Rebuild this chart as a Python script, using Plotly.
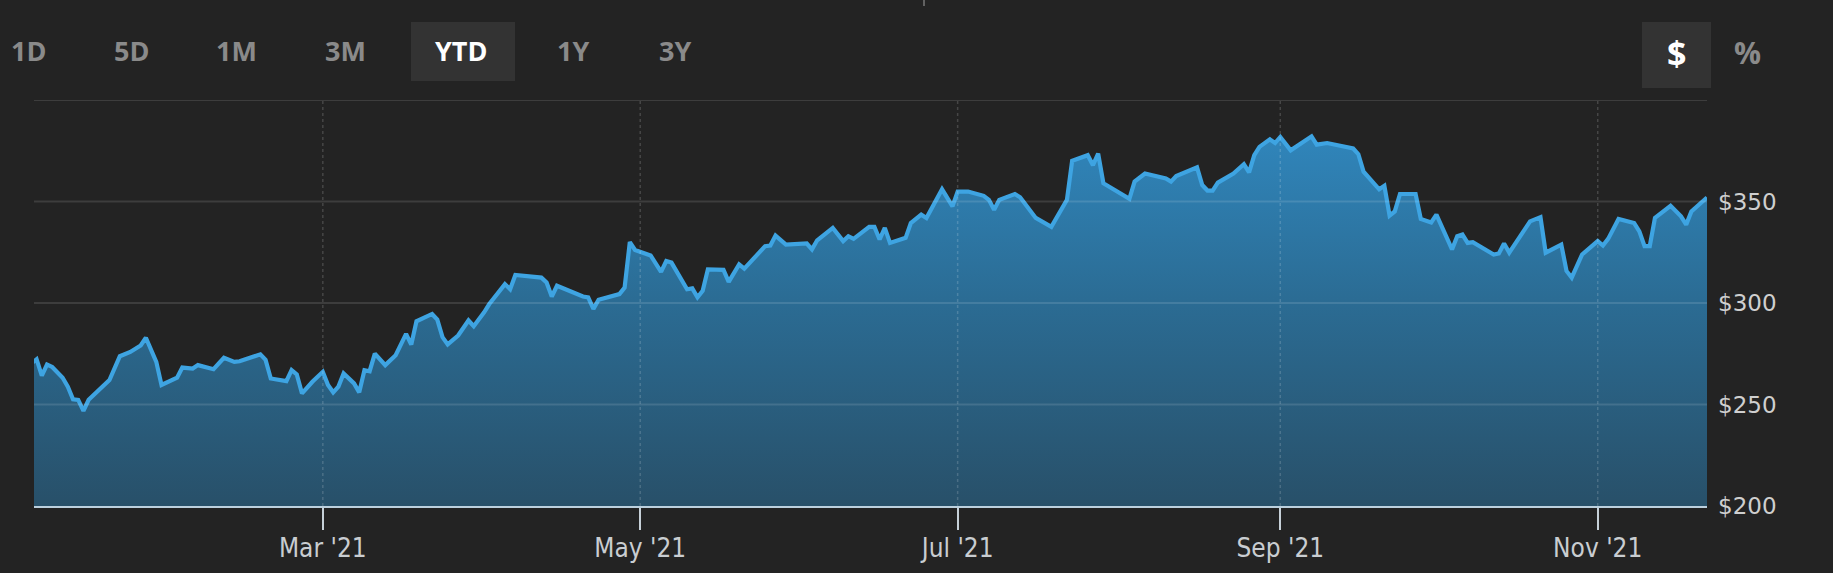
import plotly.graph_objects as go

# ---------------- data ----------------
dates = [
    "2021-01-04","2021-01-05","2021-01-06","2021-01-07","2021-01-08","2021-01-10","2021-01-11",
    "2021-01-12","2021-01-13","2021-01-14","2021-01-15","2021-01-17","2021-01-19","2021-01-21",
    "2021-01-23","2021-01-25","2021-01-26","2021-01-28","2021-01-29","2021-02-01","2021-02-02",
    "2021-02-04","2021-02-05","2021-02-08","2021-02-10","2021-02-12","2021-02-13","2021-02-17",
    "2021-02-18","2021-02-19","2021-02-22","2021-02-23","2021-02-24","2021-02-25","2021-02-27",
    "2021-03-01","2021-03-02","2021-03-03","2021-03-04","2021-03-05","2021-03-07","2021-03-08",
    "2021-03-09","2021-03-10","2021-03-11","2021-03-13","2021-03-15","2021-03-17","2021-03-18",
    "2021-03-19","2021-03-22","2021-03-23","2021-03-24","2021-03-25","2021-03-27","2021-03-29",
    "2021-03-30","2021-04-01","2021-04-02","2021-04-05","2021-04-06","2021-04-07","2021-04-12",
    "2021-04-13","2021-04-14","2021-04-15","2021-04-20","2021-04-21","2021-04-22","2021-04-23",
    "2021-04-27","2021-04-28","2021-04-29","2021-04-30","2021-05-03","2021-05-05","2021-05-06",
    "2021-05-07","2021-05-10","2021-05-11","2021-05-12","2021-05-13","2021-05-14","2021-05-17",
    "2021-05-18","2021-05-20","2021-05-21","2021-05-25","2021-05-26","2021-05-27","2021-05-29",
    "2021-06-02","2021-06-03","2021-06-04","2021-06-07","2021-06-09","2021-06-10","2021-06-11",
    "2021-06-14","2021-06-15","2021-06-16","2021-06-17","2021-06-18","2021-06-21","2021-06-22",
    "2021-06-24","2021-06-25","2021-06-28","2021-06-30","2021-07-01","2021-07-03","2021-07-06",
    "2021-07-07","2021-07-08","2021-07-09","2021-07-12","2021-07-13","2021-07-16","2021-07-19",
    "2021-07-22","2021-07-23","2021-07-26","2021-07-27","2021-07-28","2021-07-29","2021-08-03",
    "2021-08-04","2021-08-06","2021-08-10","2021-08-11","2021-08-12","2021-08-16","2021-08-17",
    "2021-08-18","2021-08-19","2021-08-20","2021-08-23","2021-08-25","2021-08-26","2021-08-27",
    "2021-08-28","2021-08-30","2021-08-31","2021-09-01","2021-09-03","2021-09-07","2021-09-08",
    "2021-09-10","2021-09-14","2021-09-15","2021-09-16","2021-09-17","2021-09-20","2021-09-21",
    "2021-09-22","2021-09-23","2021-09-24","2021-09-27","2021-09-28","2021-09-30","2021-10-01",
    "2021-10-04","2021-10-05","2021-10-06","2021-10-07","2021-10-08","2021-10-12","2021-10-13",
    "2021-10-14","2021-10-15","2021-10-19","2021-10-21","2021-10-22","2021-10-25","2021-10-26",
    "2021-10-27","2021-10-29","2021-11-01","2021-11-02","2021-11-03","2021-11-05","2021-11-08",
    "2021-11-09","2021-11-10","2021-11-11","2021-11-12","2021-11-15","2021-11-17","2021-11-18",
    "2021-11-19","2021-11-22",
]
prices = [
    270.2, 272.3, 264.2, 269.7, 268.5, 263.2, 258.8,
    252.6, 252.3, 246.9, 252.3, 257.1, 262.0, 273.8,
    275.9, 279.1, 282.9, 271.0, 259.6, 263.2, 268.2,
    267.7, 269.4, 267.4, 273.0, 271.0, 271.3, 274.7,
    272.0, 262.8, 261.5, 266.9, 264.8, 255.5, 261.2,
    266.1, 259.6, 256.0, 258.8, 265.3, 260.4, 256.0,
    266.9, 266.4, 275.1, 269.4, 274.3, 284.8, 279.5,
    291.0, 294.6, 291.8, 283.2, 279.6, 284.0, 291.4,
    288.6, 295.4, 299.5, 309.3, 306.8, 313.8, 312.5,
    310.1, 303.2, 308.5, 303.2, 302.8, 297.1, 301.6,
    304.4, 307.6, 330.0, 326.1, 323.4, 315.3, 320.7,
    319.9, 306.8, 307.2, 302.8, 306.0, 316.6, 316.3,
    310.4, 319.0, 316.9, 328.0, 328.3, 333.2, 328.8,
    329.3, 326.4, 330.9, 337.0, 330.5, 332.9, 331.6,
    337.5, 337.5, 331.3, 337.0, 329.6, 332.1, 339.4,
    343.5, 341.9, 356.0, 347.6, 354.9, 354.9, 352.8,
    350.8, 345.9, 350.8, 353.7, 352.1, 341.9, 337.5,
    350.8, 370.0, 372.8, 367.9, 373.6, 359.0, 351.3,
    359.8, 363.8, 361.4, 359.8, 362.5, 366.8, 358.1,
    355.4, 355.4, 359.3, 363.8, 368.4, 364.3, 372.8,
    376.9, 380.6, 378.8, 381.8, 375.2, 382.1, 378.0,
    378.8, 376.6, 376.1, 373.3, 364.7, 356.0, 357.7,
    343.0, 345.1, 353.7, 353.7, 341.4, 339.7, 343.5,
    326.4, 332.9, 333.7, 329.6, 330.0, 323.9, 324.4,
    329.3, 324.8, 340.2, 342.3, 324.8, 328.8, 315.8,
    312.5, 323.9, 330.5, 328.3, 331.6, 341.4, 339.4,
    335.3, 328.0, 328.0, 341.9, 347.9, 342.7, 338.6,
    345.1, 352.0,
]

x_range = ["2021-01-04 12:00", "2021-11-22"]
x_tick_dates = ["2021-03-01", "2021-05-01", "2021-07-01", "2021-09-01", "2021-11-01"]
x_tick_labels = ["Mar '21", "May '21", "Jul '21", "Sep '21", "Nov '21"]
y_tick_values = [200, 250, 300, 350]
y_tick_labels = ["$200", "$250", "$300", "$350"]
y_grid_values = [250, 300, 350, 400]
range_buttons = ["1D", "5D", "1M", "3M", "YTD", "1Y", "3Y"]
selected_button = "YTD"
y_min, y_max = 200, 400

# ---------------- layout geometry (pixels) ----------------
W, H = 1833, 573
PL, PR, PT, PB = 34, 1707, 100, 506


def px(xp):
    return (xp - PL) / (PR - PL)


def py(yp):
    return (PB - yp) / (PB - PT)


BG = "#232323"
LINE = "#3ea4e2"

fig = go.Figure()

# baseline for the area fill
fig.add_trace(go.Scatter(
    x=[dates[0], dates[-1]], y=[y_min, y_min], mode="lines",
    line=dict(width=0, color="rgba(0,0,0,0)"), hoverinfo="skip", showlegend=False,
))
fig.add_trace(go.Scatter(
    x=dates, y=prices, mode="lines",
    line=dict(color=LINE, width=4.2),
    fill="tonexty",
    fillgradient=dict(
        type="vertical",
        colorscale=[[0, "rgb(40,80,105)"], [0.55, "rgb(43,108,148)"], [1, "rgb(48,134,188)"]],
        start=y_min, stop=385,
    ),
    showlegend=False,
))

shapes = []
for v in y_grid_values:
    shapes.append(dict(type="line", xref="paper", yref="y", x0=0, x1=1, y0=v, y1=v,
                       line=dict(color="rgba(255,255,255,0.12)", width=2), layer="above"))
for d in x_tick_dates:
    shapes.append(dict(type="line", xref="x", yref="paper", x0=d, x1=d, y0=0, y1=1,
                       line=dict(color="rgba(255,255,255,0.16)", width=1.5, dash="dot"),
                       layer="above"))

# button backgrounds
shapes.append(dict(type="rect", xref="paper", yref="paper",
                   x0=px(411), x1=px(515), y0=py(81), y1=py(22),
                   fillcolor="#333333", line=dict(width=0), layer="below"))
shapes.append(dict(type="rect", xref="paper", yref="paper",
                   x0=px(1642), x1=px(1711), y0=py(88), y1=py(22),
                   fillcolor="#333333", line=dict(width=0), layer="below"))
# small mark at the top
shapes.append(dict(type="line", xref="paper", yref="paper",
                   x0=px(924), x1=px(924), y0=py(0), y1=py(6),
                   line=dict(color="#777777", width=1.5)))

annotations = []
button_x = [28.5, 131.3, 236.5, 345.3, 461.4, 572.5, 675]
for lab, bx in zip(range_buttons, button_x):
    annotations.append(dict(
        text=lab, xref="paper", yref="paper", x=px(bx), y=py(50),
        xanchor="center", yanchor="middle", showarrow=False,
        font=dict(family="Open Sans", size=27, weight="bold",
                  color="#ffffff" if lab == selected_button else "#8a8a8a"),
    ))
annotations.append(dict(text="$", xref="paper", yref="paper", x=px(1676.5), y=py(53),
                        xanchor="center", yanchor="middle", showarrow=False,
                        font=dict(family="Open Sans", size=34, weight="bold", color="#ffffff")))
annotations.append(dict(text="%", xref="paper", yref="paper", x=px(1747.5), y=py(53),
                        xanchor="center", yanchor="middle", showarrow=False,
                        font=dict(family="Open Sans", size=30, weight="bold", color="#8a8a8a")))

fig.update_layout(
    width=W, height=H, autosize=False,
    margin=dict(l=PL, r=W - PR, t=PT, b=H - PB, pad=0),
    paper_bgcolor=BG, plot_bgcolor=BG,
    showlegend=False,
    shapes=shapes, annotations=annotations,
    xaxis=dict(
        type="date", range=x_range, automargin=False,
        tickmode="array", tickvals=x_tick_dates, ticktext=x_tick_labels,
        showgrid=False, zeroline=False,
        showline=True, linecolor="#bcd0de", linewidth=2,
        ticks="outside", ticklen=22, tickwidth=2, tickcolor="#c6d0d8",
        tickfont=dict(family="Liberation Sans Narrow, DejaVu Sans Condensed, Roboto", size=26,
                      color="#c9cdd1"),
        ticklabelstandoff=-4,
        fixedrange=True,
    ),
    yaxis=dict(
        range=[y_min, y_max], side="right", automargin=False,
        tickmode="array", tickvals=y_tick_values, ticktext=y_tick_labels,
        showgrid=False, zeroline=False, showline=False, ticks="",
        tickfont=dict(family="DejaVu Sans", size=23, color="#cfcfcf"),
        ticklabelstandoff=10,
        fixedrange=True,
    ),
)

fig.write_html(
    "out.html",
    config={"displayModeBar": False},
    post_script="document.body.style.margin='0';document.body.style.overflow='hidden';"
                "document.body.style.background='#232323';",
)
